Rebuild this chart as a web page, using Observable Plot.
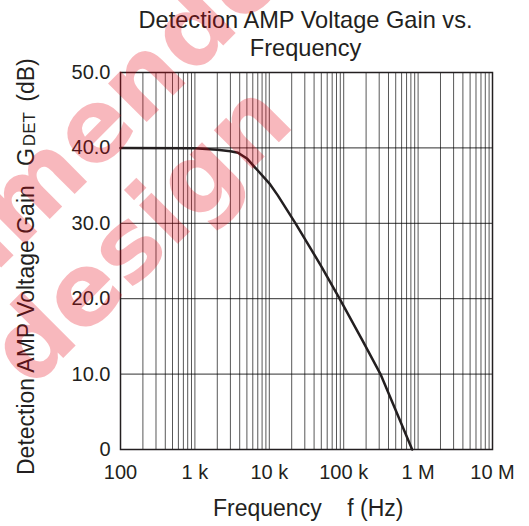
<!DOCTYPE html>
<html>
<head>
<meta charset="utf-8">
<script src="https://cdn.jsdelivr.net/npm/d3@7"></script>
<script src="https://cdn.jsdelivr.net/npm/@observablehq/plot@0.6"></script>
<style>
  html, body { margin: 0; padding: 0; background: #fff; }
  #wrap { position: relative; width: 529px; height: 526px; overflow: hidden; font-family: "Liberation Sans", Arial, sans-serif; color: #231f20; }
  #title { position: absolute; left: 0; top: 0; width: 611px; padding-top: 6px; text-align: center; font-size: 23.6px; line-height: 28px; }
  #chart { position: absolute; left: 0; top: 62px; }
  #wm { position: absolute; left: 0; top: 0; pointer-events: none; }
</style>
</head>
<body>
<div id="wrap">
  <div id="title">Detection AMP Voltage Gain vs.<br>Frequency</div>
  <div id="chart"></div>
  <svg id="wm" width="529" height="526"></svg>
</div>
<script>
// Data
const freqHz = [100, 1000, 2000, 3000, 3800, 5000, 7000, 10000, 13000, 22500, 50000, 88000, 180000, 312000, 500000, 832000];
const gainDb = [40.0, 39.95, 39.75, 39.55, 39.35, 38.6, 37.0, 35.3, 33.7, 30.0, 24.3, 20.0, 14.4, 10.0, 5.2, 0];

// Axis ticks and labels
const xTickValues = [100, 1e3, 1e4, 1e5, 1e6, 1e7];
const xTickLabels = ["100", "1 k", "10 k", "100 k", "1 M", "10 M"];
const yTickValues = [0, 10, 20, 30, 40, 50];
const yTickLabels = ["0", "10.0", "20.0", "30.0", "40.0", "50.0"];
const gridMultipliers = [1, 2, 3, 4, 5, 6, 7, 8, 9];
const gridDecades = [100, 1e3, 1e4, 1e5, 1e6];

const xLabelText = "Frequency\u00A0\u00A0\u00A0\u00A0f (Hz)";
const yLabelMain = "Detection AMP Voltage Gain\u00A0\u00A0\u00A0G";
const yLabelSub = "DET";
const yLabelEnd = "\u00A0(dB)";
const watermarkLines = ["Not recommended", "for new design"];

const data = freqHz.map((f, i) => ({f, g: gainDb[i]}));
const gridX = gridDecades.flatMap(d => gridMultipliers.map(m => d * m)).concat([1e7]);
const xLab = new Map(xTickValues.map((v, i) => [v, xTickLabels[i]]));
const yLab = new Map(yTickValues.map((v, i) => [v, yTickLabels[i]]));

const ink = "#231f20";

const chart = Plot.plot({
  width: 529,
  height: 464,
  marginTop: 10,
  marginLeft: 120,
  marginRight: 37,
  marginBottom: 77,
  style: {fontFamily: "'Liberation Sans', Arial, sans-serif", fontSize: "20px", color: ink, background: "transparent", overflow: "visible"},
  x: {type: "log", domain: [100, 1e7]},
  y: {domain: [0, 50]},
  marks: [
    Plot.gridX(gridX, {stroke: "#000", strokeOpacity: 0.66, strokeWidth: 1}),
    Plot.gridY(yTickValues, {stroke: "#000", strokeOpacity: 0.82, strokeWidth: 1}),
    Plot.axisX(xTickValues, {tickSize: 0, tickPadding: 15, tickFormat: d => xLab.get(d), label: null, fontSize: 20, fill: ink}),
    Plot.axisY(yTickValues, {tickSize: 0, tickPadding: 10, tickFormat: d => yLab.get(d), label: null, fontSize: 20, fill: ink}),
    Plot.line(data, {x: "f", y: "g", stroke: ink, strokeWidth: 2.5, curve: "linear"}),
    Plot.frame({stroke: ink, strokeWidth: 1.5})
  ]
});
document.getElementById("chart").appendChild(chart);

const svg = d3.select(chart);
// x axis label
svg.append("text")
  .attr("x", 213).attr("y", 516 - 62)
  .attr("text-anchor", "start")
  .attr("fill", ink)
  .style("font-size", "23px")
  .text(xLabelText);
// y axis label with subscript
const yl = svg.append("text")
  .attr("transform", `translate(34,${475 - 62}) rotate(-90)`)
  .attr("text-anchor", "start")
  .attr("fill", ink)
  .style("font-size", "23px");
yl.append("tspan").text(yLabelMain);
yl.append("tspan").attr("dx", 2).attr("dy", 1).style("font-size", "17px").text(yLabelSub);
yl.append("tspan").attr("dx", 4).attr("dy", -1).text(yLabelEnd);

// watermark: rotated -45deg; position chosen so that key letters land where the reference shows them
const wm = d3.select("#wm");
const wmFont = 100, wmSpacing = 0;
// [index of anchor char, target start of that char along text (u), baseline offset (v)]
const wmAnchors = [[11, 9, 190], [8, -254, 298]];
watermarkLines.forEach((t, i) => {
  const g = wm.append("g").attr("transform", "rotate(-45)");
  const txt = g.append("text")
    .attr("x", 0).attr("y", wmAnchors[i][2])
    .attr("text-anchor", "start")
    .attr("fill", "rgb(230,0,18)")
    .attr("fill-opacity", 0.28)
    .style("font-family", "'DejaVu Sans', sans-serif")
    .style("font-weight", "bold")
    .style("font-size", wmFont + "px")
    .style("letter-spacing", wmSpacing + "px")
    .text(t);
  const off = txt.node().getSubStringLength(0, wmAnchors[i][0]);
  txt.attr("x", wmAnchors[i][1] - off);
});
</script>
</body>
</html>
